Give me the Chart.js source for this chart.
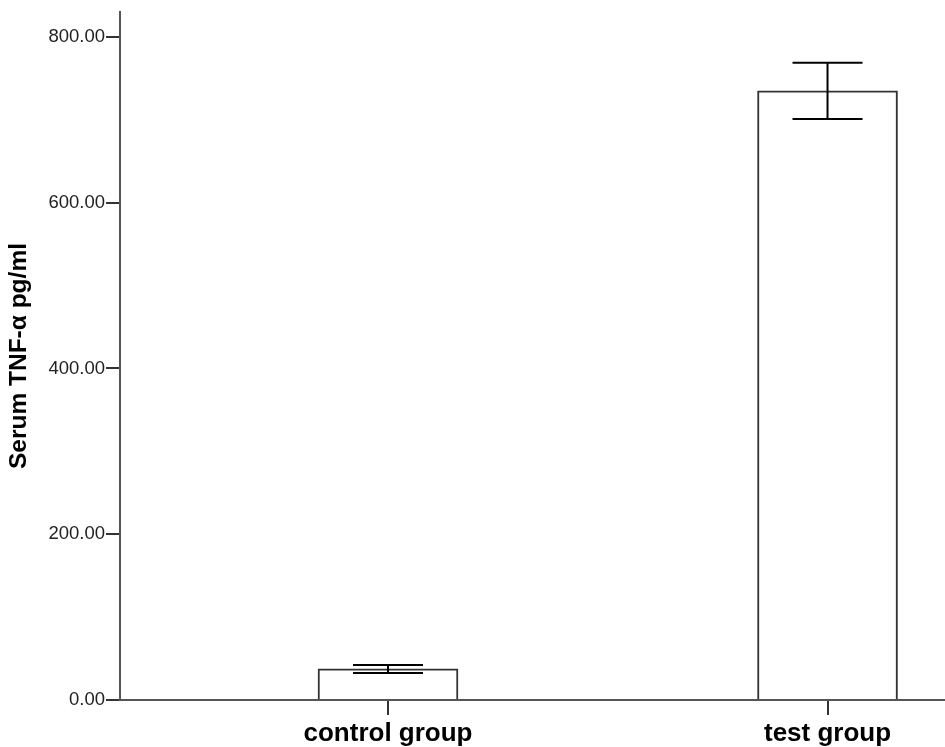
<!DOCTYPE html>
<html>
<head>
<meta charset="utf-8">
<script src="https://cdn.jsdelivr.net/npm/chart.js@4/dist/chart.umd.min.js"></script>
<style>
  html, body { margin: 0; padding: 0; background: #fff; }
  #wrap { width: 945px; height: 747px; position: relative; }
</style>
</head>
<body>
<div id="wrap"><canvas id="c"></canvas></div>
<script>
// ---- data ----
const categories = ['control group', 'test group'];
const positions = [0, 1];
const means = [37.5, 735];
const errors = [4.8, 34];
const yTickValues = [0, 200, 400, 600, 800];
const yTitle = 'Serum TNF-\u03b1 pg/ml';

const errorBarPlugin = {
  id: 'errorBars',
  afterDatasetsDraw(chart) {
    const ctx = chart.ctx, xs = chart.scales.x, ys = chart.scales.y;
    ctx.save();
    ctx.strokeStyle = '#000';
    ctx.lineWidth = 2;
    for (let i = 0; i < means.length; i++) {
      const x = xs.getPixelForValue(positions[i]);
      const yt = ys.getPixelForValue(means[i] + errors[i]);
      const yb = ys.getPixelForValue(means[i] - errors[i]);
      const hw = 35;
      ctx.beginPath();
      ctx.moveTo(x, yt); ctx.lineTo(x, yb);
      ctx.moveTo(x - hw, yt); ctx.lineTo(x + hw, yt);
      ctx.moveTo(x - hw, yb); ctx.lineTo(x + hw, yb);
      ctx.stroke();
    }
    ctx.restore();
  }
};

new Chart(document.getElementById('c'), {
  type: 'bar',
  data: {
    datasets: [{
      data: positions.map((p, i) => ({ x: p, y: means[i] })),
      backgroundColor: '#ffffff',
      borderColor: '#333333',
      borderWidth: 2,
      borderSkipped: 'bottom',
      barThickness: 140
    }]
  },
  options: {
    responsive: true,
    maintainAspectRatio: false,
    animation: false,
    layout: { padding: { top: 10, right: 0, left: 0, bottom: 0 } },
    plugins: { legend: { display: false }, tooltip: { enabled: false } },
    scales: {
      x: {
        type: 'linear',
        offset: false,
        min: -0.6098,
        max: 1.2673,
        afterBuildTicks(s) { s.ticks = positions.map(v => ({ value: v })); },
        afterFit(s) { s.height = 47; },
        grid: { display: true, offset: false, drawOnChartArea: false, drawTicks: true, tickLength: 15, color: '#333', lineWidth: 2 },
        border: { display: true, color: '#555', width: 2 },
        ticks: {
          autoSkip: false, maxRotation: 0, padding: 3,
          color: '#000',
          font: { family: 'Liberation Sans, Arial, sans-serif', size: 26, weight: 'bold' },
          callback: (v) => categories[positions.indexOf(v)] ?? ''
        }
      },
      y: {
        min: 0,
        max: 830,
        afterBuildTicks(s) { s.ticks = yTickValues.map(v => ({ value: v })); },
        afterFit(s) { s.width = 120; },
        grid: { display: true, drawOnChartArea: false, drawTicks: true, tickLength: 14, color: '#333', lineWidth: 2 },
        border: { display: true, color: '#555', width: 2 },
        title: {
          display: true, text: yTitle, color: '#000',
          font: { family: 'Liberation Sans, Arial, sans-serif', size: 24.5, weight: 'bold' },
          padding: { top: 5, bottom: 0 }
        },
        ticks: {
          padding: 1, color: '#222',
          font: { family: 'Liberation Sans, Arial, sans-serif', size: 18.5 },
          callback: (v) => Number(v).toFixed(2)
        }
      }
    }
  },
  plugins: [errorBarPlugin]
});
</script>
</body>
</html>
